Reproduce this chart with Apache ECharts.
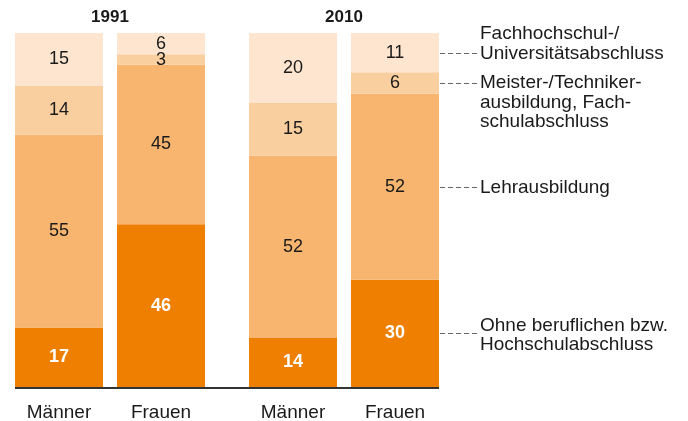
<!DOCTYPE html>
<html><head><meta charset="utf-8">
<script src="https://cdn.jsdelivr.net/npm/echarts@6/dist/echarts.min.js"></script>
<style>html,body{margin:0;padding:0;background:#fff;overflow:hidden}#c{position:absolute;left:-7px;top:0;width:695px;height:421px}</style>
</head><body><div id="c"></div>
<script>
const years = ['1991', '2010'];
const genders = ['Männer', 'Frauen'];
const levels = ['Ohne beruflichen bzw.\nHochschulabschluss', 'Lehrausbildung', 'Meister-/Techniker-\nausbildung, Fach-\nschulabschluss', 'Fachhochschul-/\nUniversitätsabschluss'];
const maenner1991 = [17, 55, 14, 15];
const frauen1991 = [46, 45, 3, 6];
const maenner2010 = [14, 52, 15, 20];
const frauen2010 = [30, 52, 6, 11];

const colors = ['#EE7F00', '#F7B56F', '#FACFA0', '#FDE5CF'];
const FONT = 'Liberation Sans';
const SHIFT = 7; // container is shifted left by this many px
const raw = { 'Männer': [maenner1991, maenner2010], 'Frauen': [frauen1991, frauen2010] };
const sum = a => a.reduce((s, v) => s + v, 0);

const series = [];
genders.forEach(g => {
  series.push({
    type: 'bar', stack: g, barWidth: 88, barGap: '15.9%', silent: true,
    data: [0, 0], itemStyle: { color: 'transparent' },
    label: { show: true, position: 'bottom', distance: 16, formatter: g, color: '#1a1a1a', fontSize: 19, fontFamily: FONT }
  });
  levels.forEach((lv, i) => {
    series.push({
      name: lv, type: 'bar', stack: g, barWidth: 88, barGap: '15.9%',
      itemStyle: { color: colors[i] },
      data: raw[g].map(arr => ({ value: arr[i] / sum(arr) * 100, raw: arr[i] })),
      label: {
        show: true, position: 'inside',
        formatter: p => String(p.data.raw),
        color: i === 0 ? '#fff' : '#1a1a1a',
        fontWeight: i === 0 ? 'bold' : 'normal',
        fontSize: 18, fontFamily: FONT
      }
    });
  });
});

const chart = echarts.init(document.getElementById('c'), null, { renderer: 'canvas' });
chart.setOption({
  animation: false,
  grid: { left: 0, width: 468, top: 33, bottom: 34 },
  xAxis: [
    { type: 'category', data: years, position: 'bottom', axisLine: { show: false }, axisTick: { show: false }, axisLabel: { show: false } },
    { type: 'category', data: years, position: 'top', axisLine: { show: false }, axisTick: { show: false },
      axisLabel: { color: '#1a1a1a', fontWeight: 'bold', fontSize: 17, fontFamily: FONT, margin: 7 } }
  ],
  yAxis: { type: 'value', min: 0, max: 100, show: false },
  series: series
});

const y0 = chart.convertToPixel({ gridIndex: 0 }, [0, 0])[1];
const f = frauen2010, tot = sum(f);
let cum = 0;
const graphics = [{
  type: 'line', shape: { x1: 15 + SHIFT, y1: y0 + 1, x2: 439 + SHIFT, y2: y0 + 1 },
  style: { stroke: '#333', lineWidth: 2 }
}];
const anchor = [['middle', 2], ['middle', 0], ['top', -10], ['bottom', 10]];
levels.forEach((lv, i) => {
  const mid = (cum + f[i] / 2) / tot * 100;
  cum += f[i];
  const y = Math.round(chart.convertToPixel({ gridIndex: 0 }, [1, mid])[1]) + 0.5;
  graphics.push({ type: 'line', shape: { x1: 440 + SHIFT, y1: y, x2: 477 + SHIFT, y2: y },
    style: { stroke: '#666', lineWidth: 1, lineDash: [5, 3] } });
  graphics.push({ type: 'text', x: 480 + SHIFT, y: y + anchor[i][1],
    style: { text: lv, fill: '#1a1a1a', font: '19px "' + FONT + '"', lineHeight: 19.5,
      verticalAlign: anchor[i][0], align: 'left' } });
});
chart.setOption({ graphic: graphics });
</script></body></html>
